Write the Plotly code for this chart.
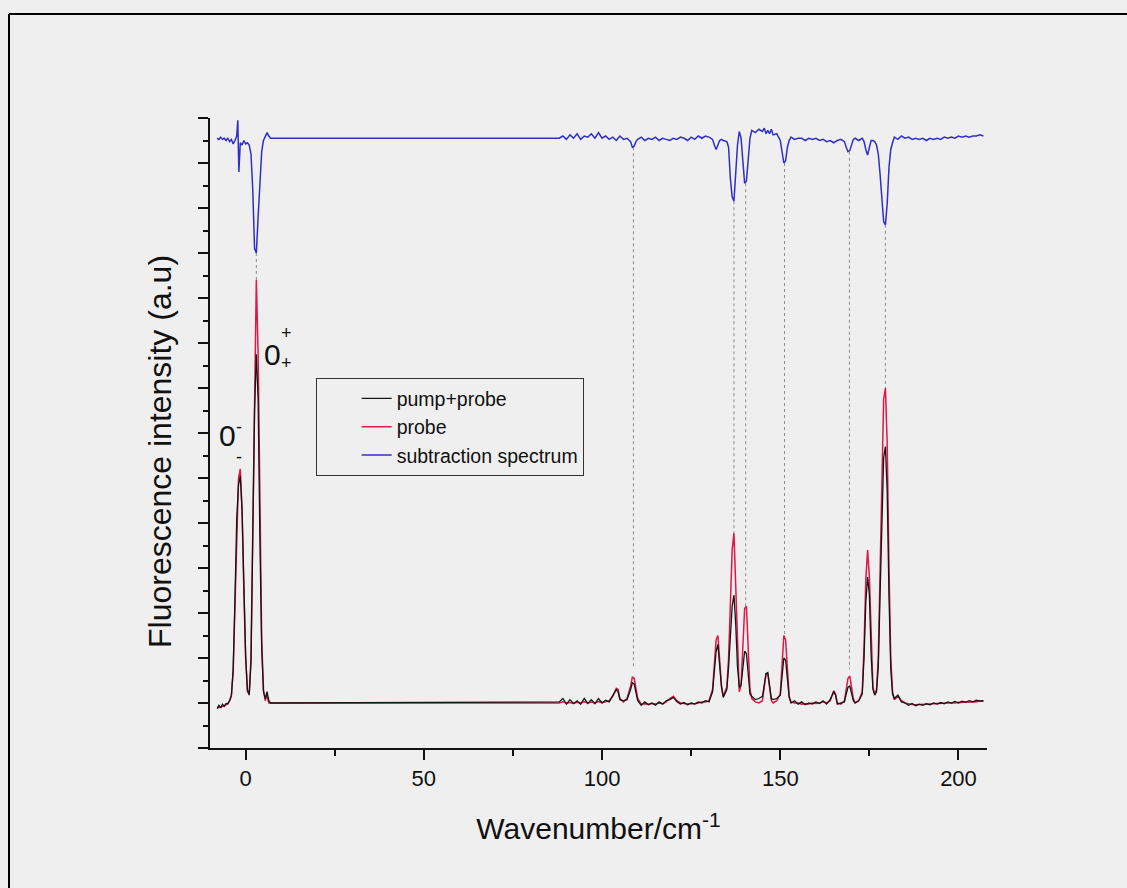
import plotly.graph_objects as go

# ---------------- data ----------------
# region near the origin (0- / 0+ tunnelling doublet)
wn_low = [-8, -7.5, -7, -6.5, -6, -5.5, -5, -4.5, -4, -3.5, -3, -2.5, -2, -1.5, -1, -0.5,
          0, 0.5, 1, 1.5, 2, 2.5, 3, 3.5, 4, 4.5, 5, 5.5, 6, 6.5, 7, 7.5, 8]
probe_low = [1.78, 1.80, 1.82, 1.86, 1.88, 1.92, 1.98, 2.10, 2.3, 3.4, 6.5, 10.0, 12.0, 12.4, 10.6, 7.0,
             4.0, 2.5, 2.4, 4.0, 9.5, 17.0, 20.8, 17.5, 10.0, 4.8, 2.6, 2.1, 2.35, 2.0, 2.0, 2.0, 2.0]
pump_probe_low = [1.75, 1.90, 1.78, 1.95, 1.85, 1.98, 1.96, 2.10, 2.35, 3.5, 6.6, 10.2, 11.7, 12.1, 10.5, 7.1,
                  4.1, 2.6, 2.35, 3.8, 9.0, 15.0, 17.5, 15.5, 9.3, 4.5, 2.5, 2.2, 2.5, 2.1, 2.0, 2.0, 2.0]

wn_sub_low = [-8, -7.5, -7, -6.5, -6, -5.5, -5, -4.5, -4, -3.5, -3, -2.5, -2.2, -1.9, -1.5, -1, -0.5,
              0, 0.5, 1, 1.5, 2, 2.5, 3, 3.5, 4, 4.5, 5, 5.5, 6, 6.5, 7, 7.5, 8]
sub_low = [27.1, 27.05, 27.15, 27.05, 27.1, 27.0, 27.1, 26.95, 27.05, 26.85, 27.0, 27.2, 27.9, 25.6, 26.9, 26.8, 27.0,
           26.85, 26.9, 26.8, 26.4, 24.8, 22.2, 22.0, 23.6, 25.2, 26.5, 27.0, 27.2, 27.35, 27.2, 27.1, 27.1, 27.1]

# region 88 - 207 cm-1
wn_high = [88, 89, 90, 91, 92, 93, 94, 95, 96, 97, 98, 99, 100, 101, 102, 103, 104, 104.5, 105, 106, 107,
           108, 108.5, 109, 109.5, 110, 111, 112, 113, 114, 115, 116, 117, 118, 119, 120, 121, 122, 123,
           124, 125, 126, 127, 128, 129, 130, 131, 131.5, 132, 132.5, 133, 133.5, 134, 135, 135.5, 136,
           136.5, 137, 137.5, 138, 138.5, 139, 139.5, 140, 140.5, 141, 141.5, 142, 143, 144, 145, 145.5,
           146, 146.5, 147, 147.5, 148, 149, 150, 150.5, 151, 151.5, 152, 152.5, 153, 154, 155, 156, 157,
           158, 159, 160, 161, 162, 163, 164, 165, 165.5, 166, 167, 168, 168.5, 169, 169.5, 170, 170.5,
           171, 172, 173, 173.5, 174, 174.5, 175, 175.5, 176, 176.5, 177, 177.5, 178, 178.5, 179, 179.5,
           180, 180.5, 181, 181.5, 182, 183, 184, 185, 186, 187, 188, 189, 190, 191, 192, 193, 194, 195,
           196, 197, 198, 199, 200, 201, 202, 203, 204, 205, 206, 207]

probe_high = [2.0, 2.05, 2.0, 2.02, 1.98, 2.03, 2.0, 2.05, 2.0, 2.04, 2.0, 2.06, 2.02, 2.05, 2.1, 2.3, 2.65, 2.6, 2.2, 2.05, 2.2,
              2.75, 3.15, 3.1, 2.6, 2.2, 1.95, 1.97, 1.95, 1.98, 1.96, 2.0, 1.97, 2.05, 2.2, 2.3, 2.1, 2.0, 1.98,
              1.96, 1.98, 1.97, 2.0, 2.05, 2.05, 2.1, 2.6, 3.8, 4.8, 5.0, 4.0, 2.8, 2.3, 2.7, 4.0, 6.3,
              8.8, 9.55, 7.2, 4.0, 2.5, 2.8, 4.5, 6.2, 6.3, 4.3, 2.6, 2.2, 2.05, 2.0, 2.1, 2.7,
              3.3, 3.3, 2.6, 2.1, 2.0, 2.1, 2.4, 3.8, 5.0, 4.8, 3.3, 2.3, 2.05, 2.0, 2.0, 1.95, 1.97,
              1.96, 2.0, 1.98, 2.0, 2.05, 2.0, 2.1, 2.55, 2.4, 2.0, 1.95, 2.1, 2.6, 3.1, 3.2, 2.7, 2.2,
              2.0, 2.1, 2.5, 4.5, 7.5, 8.8, 7.6, 4.5, 2.7, 2.4, 2.6, 4.0, 8.0, 12.5, 15.5, 16.0,
              13.5, 8.0, 4.0, 2.5, 2.15, 2.3, 2.1, 2.0, 1.95, 1.93, 1.92, 1.93, 1.95, 1.94, 1.95, 1.96, 1.98, 1.97,
              1.99, 2.0, 2.01, 2.0, 2.03, 2.02, 2.05, 2.03, 2.06, 2.05, 2.1, 2.08]

pump_probe_high = [2.05, 2.2, 1.95, 2.15, 1.98, 2.1, 1.95, 2.2, 1.98, 2.15, 1.97, 2.2, 2.0, 2.12, 2.05, 2.35, 2.6, 2.5, 2.15, 2.1, 2.15,
                   2.6, 2.9, 2.85, 2.5, 2.1, 1.9, 2.05, 1.92, 2.0, 1.9, 2.05, 1.95, 2.1, 2.15, 2.25, 2.05, 1.95, 2.02,
                   1.92, 2.0, 1.95, 2.05, 2.0, 2.1, 2.05, 2.5, 3.5, 4.3, 4.6, 3.8, 2.7, 2.25, 2.6, 3.6, 5.2,
                   6.3, 6.8, 5.5, 3.6, 2.7, 2.8, 3.6, 4.3, 4.2, 3.2, 2.4, 2.3, 2.15, 2.2, 2.3, 2.8,
                   3.3, 3.35, 2.7, 2.2, 2.15, 2.2, 2.35, 3.3, 4.0, 3.9, 3.0, 2.25, 2.0, 2.1, 1.95, 2.05, 1.92,
                   2.0, 1.95, 2.05, 1.98, 2.1, 1.95, 2.15, 2.5, 2.35, 1.95, 2.0, 2.05, 2.4, 2.7, 2.75, 2.4, 2.1,
                   2.0, 2.1, 2.4, 4.0, 6.5, 7.6, 6.8, 4.1, 2.6, 2.35, 2.5, 3.6, 6.8, 10.5, 12.9, 13.4,
                   11.4, 6.8, 3.5, 2.4, 2.2, 2.35, 2.05, 2.0, 1.9, 1.98, 1.88, 1.95, 1.9, 1.97, 1.92, 2.0, 1.95, 2.02,
                   1.96, 2.05, 2.0, 2.07, 2.0, 2.08, 2.03, 2.1, 2.05, 2.12, 2.08, 2.1]

sub_high = [27.1, 27.2, 27.05, 27.25, 27.1, 27.3, 27.05, 27.2, 27.15, 27.3, 27.1, 27.35, 27.1, 27.2, 27.05, 27.15, 27.0, 27.1, 27.2, 27.05, 27.1,
            26.95, 26.7, 26.75, 26.95, 27.05, 27.15, 27.0, 27.1, 27.05, 27.15, 27.0, 27.1, 27.05, 27.0, 27.1, 27.05, 27.15, 27.1,
            27.0, 27.15, 27.05, 27.2, 27.1, 27.2, 27.15, 27.05, 26.8, 26.6, 26.8, 27.0, 27.05, 27.0, 26.95, 26.7, 25.3,
            24.5, 24.3, 25.5, 26.8, 27.4, 27.1, 26.1, 25.1, 25.2, 26.3, 27.1, 27.45, 27.35, 27.5, 27.4, 27.55,
            27.3, 27.45, 27.3, 27.5, 27.25, 27.3, 27.0, 26.5, 26.0, 26.1, 26.7, 27.0, 27.15, 27.05, 27.1, 27.1, 27.0,
            27.1, 27.05, 27.1, 27.0, 27.05, 26.95, 27.0, 26.9, 26.95, 27.0, 27.05, 26.95, 26.7, 26.5, 26.55, 26.85, 27.05,
            27.1, 27.0, 27.1, 26.95, 26.6, 26.35, 26.7, 27.0, 27.0, 26.95, 26.8, 26.4, 25.5, 24.2, 23.4, 23.25,
            24.2, 25.8, 26.6, 26.9, 27.15, 27.05, 27.2, 27.1, 27.15, 27.05, 27.1, 27.05, 27.1, 27.0, 27.1, 27.05, 27.1, 27.05,
            27.15, 27.1, 27.15, 27.1, 27.2, 27.15, 27.2, 27.15, 27.2, 27.2, 27.25, 27.2]

# dotted guide lines linking subtraction dips to probe peaks
guide_x = [3.0, 108.8, 137.0, 140.3, 151.2, 169.4, 179.5]
guide_top = [22.0, 26.7, 24.3, 25.1, 26.0, 26.5, 23.25]
guide_bottom = [20.8, 3.6, 9.55, 6.3, 5.0, 3.5, 16.0]

x_ticks = [0, 50, 100, 150, 200]
x_minor_ticks = [25, 75, 125, 175]

assert len(wn_low) == len(probe_low) == len(pump_probe_low)
assert len(wn_sub_low) == len(sub_low)
assert len(wn_high) == len(probe_high) == len(pump_probe_high) == len(sub_high)

# ---------------- figure ----------------
BG = "#efefef"
FONT = "Liberation Sans, Arial, sans-serif"
PW, PH = 777, 630  # plot-area size in px (for paper-coordinate decorations)

fig = go.Figure()

gx, gy = [], []
for xv, t, b in zip(guide_x, guide_top, guide_bottom):
    gx += [xv, xv, None]
    gy += [t, b, None]
fig.add_trace(go.Scatter(x=gx, y=gy, mode="lines", showlegend=False, hoverinfo="skip",
                         line=dict(color="#8a8a8a", width=1, dash="dot")))

fig.add_trace(go.Scatter(x=wn_low + wn_high, y=probe_low + probe_high, mode="lines",
                         name="probe", legendrank=2,
                         line=dict(color="#dc1846", width=1.5)))
fig.add_trace(go.Scatter(x=wn_low + wn_high, y=pump_probe_low + pump_probe_high, mode="lines",
                         name="pump+probe", legendrank=1,
                         line=dict(color="#151515", width=1.3)))
fig.add_trace(go.Scatter(x=wn_sub_low + wn_high, y=sub_low + sub_high, mode="lines",
                         name="subtraction spectrum", legendrank=3,
                         line=dict(color="#2f2fc8", width=1.5)))

# labels of the doublet
for txt, xx, yy, sz in [("0", -5.2, 13.9, 30), ("-", -2.0, 14.25, 18), ("-", -1.9, 12.95, 18),
                        ("0", 7.4, 17.5, 30), ("+", 11.4, 18.45, 18), ("+", 11.4, 17.1, 18)]:
    fig.add_annotation(x=xx, y=yy, xref="x", yref="y", text=txt, showarrow=False,
                       font=dict(family=FONT, size=sz, color="#111"))

# y-axis title (placed as rotated text to match the reference offset)
fig.add_annotation(x=(160 - 210) / PW, y=(748 - 452) / PH, xref="paper", yref="paper",
                   xanchor="center", yanchor="middle",
                   text="Fluorescence intensity (a.u)", textangle=-90, showarrow=False,
                   font=dict(family=FONT, size=32, color="#111"))

fig.update_layout(
    width=1127, height=888,
    margin=dict(l=210, r=140, t=118, b=140),
    paper_bgcolor=BG, plot_bgcolor=BG,
    font=dict(family=FONT, color="#111"),
    showlegend=True,
    legend=dict(x=0.136, y=0.587, xanchor="left", yanchor="top",
                bgcolor="rgba(0,0,0,0)", bordercolor="#333", borderwidth=1,
                font=dict(family=FONT, size=19.5, color="#111"),
                indentation=40, traceorder="normal"),
    xaxis=dict(range=[-10, 208], showgrid=False, zeroline=False,
               showline=True, linecolor="#111", linewidth=2,
               tickmode="array", tickvals=x_ticks, ticks="outside", ticklen=10, tickwidth=2,
               tickcolor="#111", tickfont=dict(family=FONT, size=22, color="#111"),
               minor=dict(tickvals=x_minor_ticks, ticks="outside", ticklen=6, tickwidth=1.5,
                          tickcolor="#111"),
               title=dict(text="Wavenumber/cm<sup>-1</sup>", standoff=28,
                          font=dict(family=FONT, size=30, color="#111"))),
    yaxis=dict(range=[0, 28], showgrid=False, zeroline=False,
               showline=True, linecolor="#111", linewidth=2,
               dtick=2, tick0=0, ticks="outside", ticklen=10, tickwidth=2, tickcolor="#111",
               showticklabels=False,
               minor=dict(dtick=1, ticks="outside", ticklen=5, tickwidth=1.5, tickcolor="#111")),
    shapes=[
        dict(type="line", xref="paper", yref="paper",
             x0=(9 - 210) / PW, x1=(1127 - 210) / PW, y0=(748 - 14) / PH, y1=(748 - 14) / PH,
             line=dict(color="#000", width=2)),
        dict(type="line", xref="paper", yref="paper",
             x0=(9 - 210) / PW, x1=(9 - 210) / PW, y0=(748 - 888) / PH, y1=(748 - 14) / PH,
             line=dict(color="#000", width=2)),
    ],
)

fig.write_html("out.html")
